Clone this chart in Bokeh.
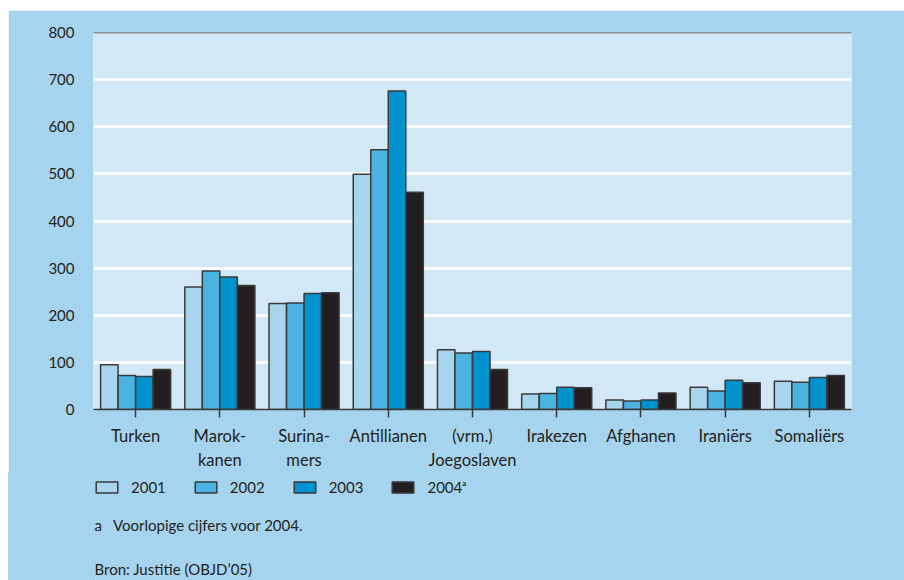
from bokeh.plotting import figure
from bokeh.models import (ColumnDataSource, FactorRange, Range1d, FixedTicker, Span,
                          Legend, LegendItem, Label, Spacer)
from bokeh.layouts import row, column
from bokeh.transform import dodge
from bokeh.embed import file_html
from bokeh.resources import INLINE

categories = ["Turken", "Marok-\nkanen", "Surina-\nmers", "Antillianen", "(vrm.)\nJoegoslaven",
              "Irakezen", "Afghanen", "Iraniërs", "Somaliërs"]
years = ["2001", "2002", "2003", "2004ᵃ"]
v2001 = [95, 260, 225, 499, 127, 33, 20, 47, 60]
v2002 = [72, 294, 226, 551, 120, 34, 18, 39, 58]
v2003 = [70, 281, 246, 676, 123, 47, 20, 62, 68]
v2004 = [85, 263, 248, 461, 85, 46, 35, 57, 72]
y_ticks = [0, 100, 200, 300, 400, 500, 600, 700, 800]
footnote = "a\u00a0\u00a0\u00a0Voorlopige cijfers voor 2004."
source_note = "Bron: Justitie (OBJD\u201905)"

colors = ["#a8d5ee", "#4ab3e2", "#0092cf", "#231f20"]
outer_bg = "#a6d4ee"
inner_bg = "#d2e8f6"
ink = "#231f20"
edge = "#3a3a3a"
font = "Lato"

src = ColumnDataSource(dict(cat=categories, v2001=v2001, v2002=v2002, v2003=v2003, v2004=v2004))

# ---------- main chart ----------
p = figure(width=896, height=462, output_backend="svg", toolbar_location=None,
           x_range=FactorRange(*categories), y_range=Range1d(0, 800),
           min_border_left=85, min_border_right=53, min_border_top=22, min_border_bottom=61)
p.background_fill_color = inner_bg
p.border_fill_color = outer_bg
p.outline_line_color = None

bw = 0.208
offsets = [-1.5 * bw, -0.5 * bw, 0.5 * bw, 1.5 * bw]
for col, off, c in zip(["v2001", "v2002", "v2003", "v2004"], offsets, colors):
    p.vbar(x=dodge("cat", off, range=p.x_range), top=col, width=bw, source=src,
           fill_color=c, line_color=edge, line_width=1.5)

p.xgrid.grid_line_color = None
p.ygrid.ticker = FixedTicker(ticks=y_ticks)
p.ygrid.grid_line_color = "white"
p.ygrid.grid_line_width = 2.5
p.add_layout(Span(location=800, dimension="width", line_color=edge, line_width=1.5))

p.yaxis.ticker = FixedTicker(ticks=y_ticks)
p.yaxis.axis_line_color = None
p.yaxis.major_tick_line_color = None
p.yaxis.major_tick_out = 0
p.yaxis.major_tick_in = 0
p.yaxis.minor_tick_line_color = None
p.yaxis.major_label_standoff = 19
p.yaxis.major_label_text_font = font
p.yaxis.major_label_text_font_size = "15px"
p.yaxis.major_label_text_color = ink

p.xaxis.axis_line_color = edge
p.xaxis.axis_line_width = 1.5
p.xaxis.major_tick_line_color = edge
p.xaxis.major_tick_line_width = 1.5
p.xaxis.major_tick_out = 8
p.xaxis.major_tick_in = 0
p.xaxis.major_label_standoff = 8
p.xaxis.major_label_text_font = font
p.xaxis.major_label_text_font_size = "16.5px"
p.xaxis.major_label_text_color = ink
p.xaxis.major_label_text_line_height = 1.2

# ---------- legend + notes strip (frame aligned with the chart above) ----------
q = figure(width=896, height=108, output_backend="svg", toolbar_location=None,
           x_range=Range1d(0, 1), y_range=Range1d(0, 1),
           x_axis_type=None, y_axis_type=None,
           min_border_left=0, min_border_right=0, min_border_top=0, min_border_bottom=0,
           styles={"background-color": outer_bg})
q.background_fill_alpha = 0
q.border_fill_color = outer_bg
q.outline_line_color = None
q.grid.visible = False

# legend swatches only (no visible marks: x lies outside the strip's range)
swatch = ColumnDataSource(dict(x=[-5], top=[0]))
leg_renderers = []
for c in colors:
    r = q.vbar(x="x", top="top", width=0.1, source=swatch, fill_color=c,
               line_color=edge, line_width=1.5)
    leg_renderers.append(r)

legend = Legend(items=[LegendItem(label=y, renderers=[r]) for y, r in zip(years, leg_renderers)],
                orientation="horizontal", location=(0, 84),
                glyph_width=27, glyph_height=14, label_height=14, label_standoff=11,
                spacing=26, padding=0, margin=0,
                border_line_color=None, background_fill_alpha=0,
                label_text_font=font, label_text_font_size="15px", label_text_color=ink)
q.add_layout(legend, "center")

for txt, yy in [(footnote, 56), (source_note, 12)]:
    q.add_layout(Label(x=1, y=yy, x_units="screen", y_units="screen", text=txt,
                       text_font=font, text_font_size="15px", text_color=ink,
                       text_baseline="middle", text_align="left"))

layout = row(Spacer(width=8), column(Spacer(height=10), p, q))
open("out.html", "w").write(file_html(layout, INLINE))
